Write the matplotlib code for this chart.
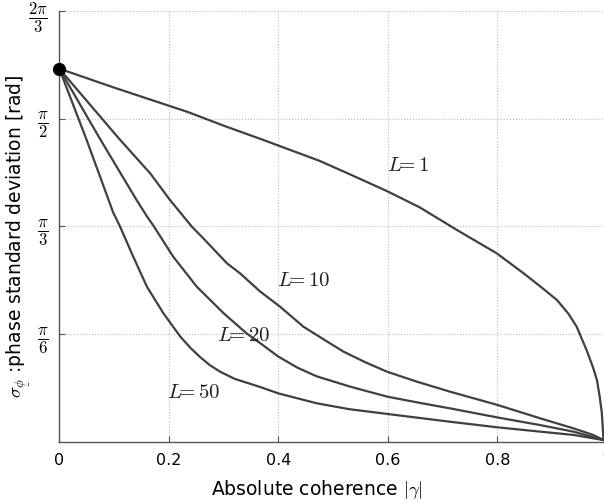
import numpy as np
import matplotlib
matplotlib.use("Agg")
from matplotlib import pyplot as plt

plt.rcParams['mathtext.fontset'] = 'cm'
plt.rcParams['font.family'] = ['DejaVu Sans']

# |gamma| vs phase std (rad)
g_L1 = [0, 0.1, 0.235, 0.3, 0.373, 0.476, 0.531, 0.599, 0.658, 0.726, 0.799, 0.848, 0.88, 0.909, 0.93, 0.945, 0.963, 0.975, 0.982, 0.987, 0.991, 0.994]
s_L1 = [1.814, 1.722, 1.603, 1.537, 1.467, 1.365, 1.300, 1.218, 1.140, 1.030, 0.916, 0.819, 0.752, 0.689, 0.622, 0.559, 0.446, 0.360, 0.300, 0.220, 0.138, 0.008]

g_L10 = [0, 0.109, 0.166, 0.202, 0.242, 0.263, 0.306, 0.330, 0.367, 0.403, 0.446, 0.494, 0.519, 0.56, 0.599, 0.653, 0.714, 0.800, 0.878, 0.939, 0.975, 0.994]
s_L10 = [1.814, 1.474, 1.305, 1.176, 1.046, 0.989, 0.868, 0.819, 0.730, 0.657, 0.559, 0.479, 0.438, 0.385, 0.340, 0.292, 0.243, 0.179, 0.114, 0.065, 0.033, 0.008]

g_L20 = [0, 0.074, 0.141, 0.159, 0.172, 0.208, 0.251, 0.300, 0.342, 0.367, 0.400, 0.435, 0.470, 0.531, 0.599, 0.66, 0.714, 0.800, 0.878, 0.939, 0.994]
s_L20 = [1.814, 1.474, 1.176, 1.100, 1.050, 0.900, 0.754, 0.625, 0.527, 0.479, 0.414, 0.360, 0.318, 0.268, 0.219, 0.188, 0.162, 0.118, 0.081, 0.049, 0.008]

g_L50 = [0, 0.049, 0.090, 0.098, 0.111, 0.135, 0.160, 0.190, 0.221, 0.24, 0.257, 0.275, 0.294, 0.32, 0.348, 0.367, 0.400, 0.470, 0.53, 0.599, 0.714, 0.800, 0.878, 0.939, 0.994]
s_L50 = [1.814, 1.474, 1.176, 1.117, 1.046, 0.900, 0.754, 0.625, 0.511, 0.455, 0.412, 0.372, 0.340, 0.306, 0.282, 0.266, 0.235, 0.187, 0.158, 0.135, 0.097, 0.070, 0.049, 0.033, 0.008]

curves = [(g_L1, s_L1), (g_L10, s_L10), (g_L20, s_L20), (g_L50, s_L50)]
labels = [r"$L\!\!= 1$", r"$L\!\!= 10$", r"$L\!\!= 20$", r"$L\!\!= 50$"]
label_pos = [(0.599, 1.346), (0.397, 0.784), (0.2875, 0.5165), (0.196, 0.244)]

xticks = [0, 0.2, 0.4, 0.6, 0.8, 1]
xticklabels = ["0", "0.2", "0.4", "0.6", "0.8", "1"]
yticks = [np.pi/6, np.pi/3, np.pi/2, 2*np.pi/3]
yticklabels = [r"$\dfrac{\pi}{6}$", r"$\dfrac{\pi}{3}$", r"$\dfrac{\pi}{2}$", r"$\dfrac{2\pi}{3}$"]

fig = plt.figure(figsize=(6.04, 5.01), dpi=100)
ax = fig.add_axes([59.3/604, 59.3/501, 547.5/604, 430.7/501])

for g, s in curves:
    ax.plot(g, s, color='#404040', lw=1.6, solid_capstyle='round', solid_joinstyle='round')
ax.plot([0], [np.pi/np.sqrt(3)], 'o', color='black', ms=8.5, clip_on=False, zorder=5)

for t, (x, y) in zip(labels, label_pos):
    ax.text(x, y, t, fontsize=15, va='center', ha='left', color='#222222')

ax.set_xlim(0, 1)
ax.set_ylim(0, 2*np.pi/3)
ax.set_xticks(xticks)
ax.set_xticklabels(xticklabels, fontsize=11.5)
ax.set_yticks(yticks)
ax.set_yticklabels(yticklabels, fontsize=12)
ax.tick_params(direction='in', length=4, color='#555555', pad=8)
ax.tick_params(axis='y', pad=8)
ax.grid(True, ls=':', color='#bbbbbb', lw=0.8)
for side in ['top', 'right']:
    ax.spines[side].set_visible(False)
for side in ['left', 'bottom']:
    ax.spines[side].set_color('#555555')
    ax.spines[side].set_linewidth(1.0)

ax.set_xlabel(r"Absolute coherence $|\gamma|$", fontsize=13.5)
ax.xaxis.set_label_coords(0.4707, -0.085)
ax.set_ylabel(r"$\sigma_{\underset{\_}{\phi}}$ :phase standard deviation [rad]", fontsize=13.5)
ax.yaxis.set_label_coords(-0.048, 0.476)

fig.savefig("out.png", dpi=100)
